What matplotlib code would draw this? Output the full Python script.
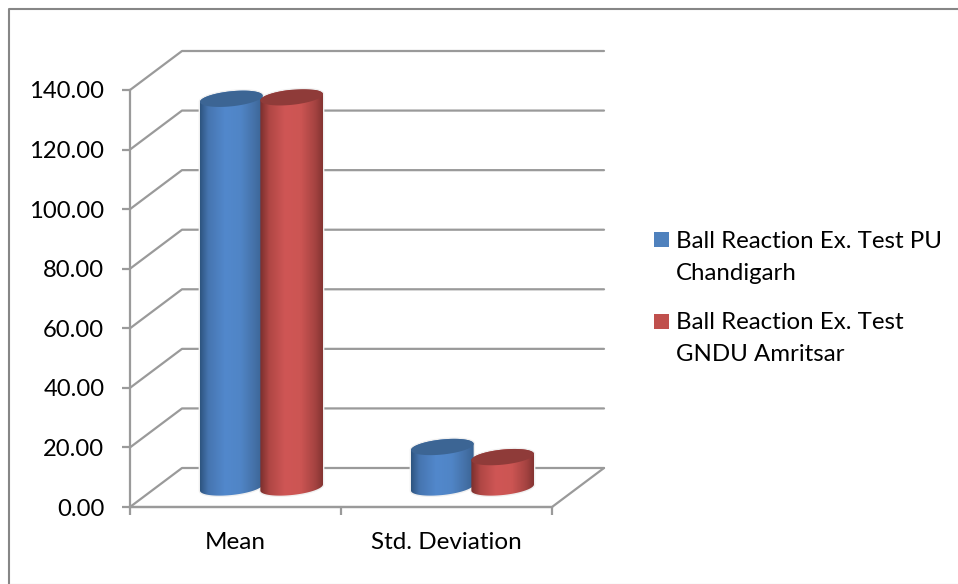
import numpy as np
import matplotlib
matplotlib.use('Agg')
import matplotlib.pyplot as plt
from matplotlib.colors import LinearSegmentedColormap
from matplotlib.lines import Line2D
from matplotlib.patches import PathPatch, Polygon, Rectangle
from matplotlib.path import Path
from matplotlib.transforms import ScaledTranslation

categories = ['Mean', 'Std. Deviation']
pu_values = [130.5, 13.6]
gndu_values = [131.0, 10.2]
series_names = ['Ball Reaction Ex. Test PU\nChandigarh', 'Ball Reaction Ex. Test\nGNDU Amritsar']
series_colors = ['#4F81BD', '#C0504D']
y_ticks = [0, 20, 40, 60, 80, 100, 120, 140]

W, H = 958, 584
GREY = '#9A9A9A'
FS = 17.5

plt.rcParams['font.family'] = ['Lato', 'DejaVu Sans']

fig = plt.figure(figsize=(W / 100, H / 100), dpi=100)
# front plane of the 3d box, in pixels of the picture
left, right, top, bottom = 130, 552, 90, 507
ax = fig.add_axes([left / W, 1 - bottom / H, (right - left) / W, (bottom - top) / H])
ax.set_xlim(0, 2)
ax.set_ylim(0, 140)
ax.patch.set_visible(False)

px_x = 2 / (right - left)
px_y = 140 / (bottom - top)
depth_x = 52 * px_x  # how far the back wall sits
depth_y = 39 * px_y


def grid_line(xs, ys):
    ax.plot(xs, ys, color=GREY, lw=1.6, clip_on=False, zorder=1, solid_capstyle='round')


for t in y_ticks:
    grid_line([0, depth_x, 2 + depth_x], [t, t + depth_y, t + depth_y])
grid_line([0, 2, 2 + depth_x], [0, 0, depth_y])


def ellipse_pts(cx, cy, t):
    # tilted ellipse seen from the 3d view, a and b in pixels
    a, b, tilt = 31.5, 7.5, np.radians(6)
    ex = a * np.cos(t) * np.cos(tilt) - b * np.sin(t) * np.sin(tilt)
    ey = a * np.cos(t) * np.sin(tilt) + b * np.sin(t) * np.cos(tilt)
    return np.column_stack([cx + ex * px_x, cy + ey * px_y])


def cylinder(x, value, side_cmap, top_color):
    # the base centre is half way into the floor
    cx = x + depth_x / 2
    y0 = depth_y / 2
    y1 = y0 + value
    lower = ellipse_pts(cx, y0, np.linspace(np.pi, 2 * np.pi, 40))
    upper = ellipse_pts(cx, y1, np.linspace(0, np.pi, 40))
    pts = np.vstack([lower, upper, lower[:1]])
    # thin pale halo, the grid stops just short of the bars
    ax.add_patch(Polygon(pts, fc='none', ec='#F0F0F0', lw=2, zorder=1.5, clip_on=False))
    im = ax.imshow(np.linspace(0, 1, 128)[None, :], cmap=side_cmap, aspect='auto', zorder=2,
                   extent=[pts[:, 0].min(), pts[:, 0].max(), y0 - 3, y1 + 3])
    clip = PathPatch(Path(pts), transform=ax.transData, fc='none', ec='none')
    ax.add_patch(clip)
    im.set_clip_path(clip)
    ax.add_patch(Polygon(ellipse_pts(cx, y1, np.linspace(0, 2 * np.pi, 80)), fc=top_color, ec='none',
                         zorder=2.1, clip_on=False))


blue_side = LinearSegmentedColormap.from_list('b', [(0, '#2E5580'), (0.13, '#4675B0'), (0.4, '#5288CC'),
                                                    (0.65, '#5085C6'), (0.88, '#4470A6'), (1, '#3A6494')])
red_side = LinearSegmentedColormap.from_list('r', [(0, '#7A2F2D'), (0.15, '#B04745'), (0.4, '#CF5655'),
                                                   (0.65, '#CC5553'), (0.88, '#A54341'), (1, '#843432')])
group_x = np.arange(len(categories)) + 0.5
offset = 0.143
for i in range(len(categories)):
    cylinder(group_x[i] - offset, pu_values[i], blue_side, '#3C6594')
    cylinder(group_x[i] + offset, gndu_values[i], red_side, '#8F3B39')
ax.set_xlim(0, 2)
ax.set_ylim(0, 140)

for s in ['top', 'right']:
    ax.spines[s].set_visible(False)
for s in ['left', 'bottom']:
    ax.spines[s].set_color(GREY)
    ax.spines[s].set_linewidth(1.6)
ax.set_yticks(y_ticks)
ax.set_yticklabels(['%.2f' % t for t in y_ticks], fontsize=17.1, color='black')
# labels sit a little lower than the ticks
shift = ScaledTranslation(0, -3 / 100, fig.dpi_scale_trans)
for lab in ax.get_yticklabels():
    lab.set_transform(lab.get_transform() + shift)
ax.set_xticks([0, 1, 2])
ax.set_xticklabels([])
ax.set_xticks(group_x, minor=True)
ax.set_xticklabels(categories, minor=True, fontsize=FS, color='black')
ax.tick_params(axis='y', length=6, width=1.6, color=GREY, pad=12.5)
ax.tick_params(axis='x', which='major', length=6, width=1.6, color=GREY)
ax.tick_params(axis='x', which='minor', length=0, pad=18)

# legend by hand, the swatch sits on the first line of each wrapped label
for name, color, y in zip(series_names, series_colors, [240, 321]):
    fig.add_artist(Rectangle((654 / W, 1 - (y + 7.5) / H), 15 / W, 15 / H, transform=fig.transFigure,
                             fc=color, ec='none'))
    fig.text(675.5 / W, 1 - (y - 9) / H, name, fontsize=17.3, color='black', va='top', ha='left', linespacing=1.64)

# outer chart frame, only left and top are dark, the bottom is barely there
fig.add_artist(Line2D([9 / W, 9 / W, 1], [0, 1 - 9 / H, 1 - 9 / H], transform=fig.transFigure,
                      color='#868686', lw=1.5))
fig.add_artist(Line2D([10 / W, 1], [0.5 / H, 0.5 / H], transform=fig.transFigure, color='#EDEDED', lw=1))

fig.savefig('out.png', dpi=100)
